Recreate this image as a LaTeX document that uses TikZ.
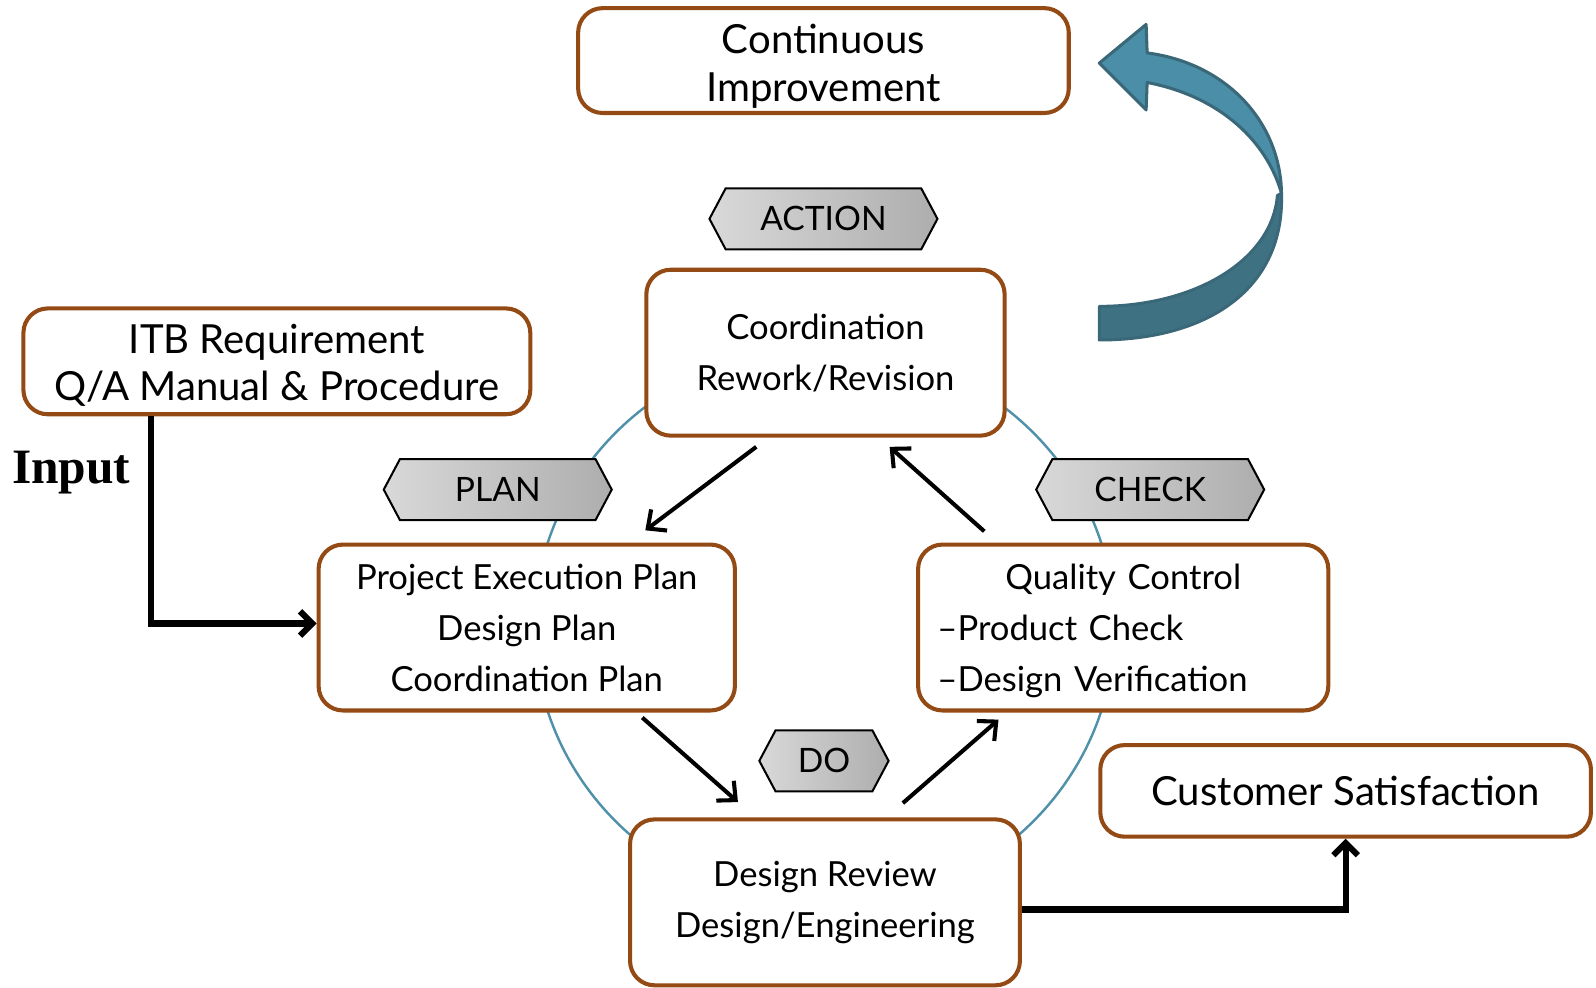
\documentclass[tikz,border=0pt]{standalone}
\usepackage{fontspec}
\setmainfont{Lato}
\newfontfamily\inputfont{Liberation Serif}
\usetikzlibrary{shapes.symbols,arrows.meta,calc}
\definecolor{boxbrown}{RGB}{148,74,20}
\definecolor{ringblue}{RGB}{80,145,170}
\definecolor{arrowblue}{RGB}{74,142,168}
\definecolor{arrowdark}{RGB}{62,114,130}
\definecolor{arrowedge}{RGB}{58,104,120}
\begin{document}
\begin{tikzpicture}[x=0.5pt,y=-0.5pt,
  pbox/.style={draw=boxbrown,line width=2pt,rounded corners=12pt,fill=white,align=center,inner sep=0pt},
  tag/.style={signal,signal to=east and west,signal pointer angle=124,draw=black,line width=1pt,
    left color=black!15,right color=black!32,minimum width=112pt,minimum height=30pt,inner sep=0pt,
    font=\fontsize{16.5}{18}\selectfont},
  arr/.style={line width=2pt,-{Straight Barb[length=7pt,width=13pt]}},
  feed/.style={line width=3pt,-{Straight Barb[length=6pt,width=12pt]}},
  bodyfont/.style={font=\fontsize{17}{25}\selectfont},
  bigfont/.style={font=\fontsize{19.7}{23.5}\selectfont}]
\useasboundingbox (0,0) rectangle (1568,970);
% ring
\draw[ringblue,line width=1.2pt] (810,616) ellipse [x radius=142.5pt,y radius=137.5pt];
% curved arrow
\draw[arrowedge,line width=1.5pt,fill=arrowdark,line join=round]
  (1259,190) .. controls (1262,285) and (1185,334) .. (1080,334)
  -- (1080,301) .. controls (1175,301) and (1250,255) .. (1255,192) -- cycle;
\draw[arrowedge,line width=1.5pt,fill=arrowblue,line join=round]
  (1127,52) .. controls (1205,62) and (1258,120) .. (1259,190)
  .. controls (1245,140) and (1200,95) .. (1127,81)
  -- (1126,108) -- (1080,62) -- (1126,24) -- cycle;
% boxes
\node[pbox,minimum width=241pt,minimum height=51.5pt,bigfont] (cont) at (809,59.5) {\rule{0pt}{20pt}Continuous\\Improvement};
\node[pbox,minimum width=249pt,minimum height=52pt,bigfont] (itb) at (272,355) {\rule{0pt}{18.3pt}ITB Requirement\\Q/A Manual \& Procedure};
\node[pbox,minimum width=176pt,minimum height=81.5pt,bodyfont] (coord) at (811,346.5) {Coordination\\Rework/Revision};
\node[pbox,minimum width=204.5pt,minimum height=81.5pt,bodyfont] (pep) at (517.5,616.5) {Project Execution Plan\\Design Plan\\Coordination Plan};
\node[pbox,minimum width=201.5pt,minimum height=81.5pt,bodyfont,align=left,text width=182.5pt] (qc) at (1103.5,616.5) {\rule{0pt}{15.5pt}\makebox[182.5pt][c]{Quality Control}\\–Product Check\\–Design Verification};
\node[pbox,minimum width=191.5pt,minimum height=81.5pt,bodyfont] (dr) at (810.5,886.5) {Design Review\\Design/Engineering};
\node[pbox,minimum width=241pt,minimum height=45pt,bigfont] (cs) at (1322,777) {Customer Satisfaction};
% tags
\node[tag] (action) at (809,215) {ACTION};
\node[tag] (plan) at (489,481) {PLAN};
\node[tag] (check) at (1130,481) {CHECK};
\node[tag,minimum width=63.5pt] (do) at (809.5,747.5) {DO};
% input label
\node[font=\inputfont\bfseries\fontsize{24.3}{28}\selectfont] (input) at (70,464) {Input};
% cycle arrows
\draw[arr] ($(coord.south west)+(110,9)$) -- ($(pep.north west)+(323,-12)$);
\draw[arr] ($(pep.south west)+(320,5)$) -- ($(dr.north west)+(108,-15)$);
\draw[arr] ($(dr.north west)+(270,-14)$) -- ($(qc.south west)+(81,7)$);
\draw[arr] ($(qc.north west)+(67,-11)$) -- ($(coord.south west)+(241,9)$);
% feed arrows
\draw[feed] ($(itb.south west)+(127,0)$) |- ($(pep.west)+(0,-4)$);
\draw[feed] ($(dr.east)+(0,7)$) -| (cs.south);
\end{tikzpicture}
\end{document}
